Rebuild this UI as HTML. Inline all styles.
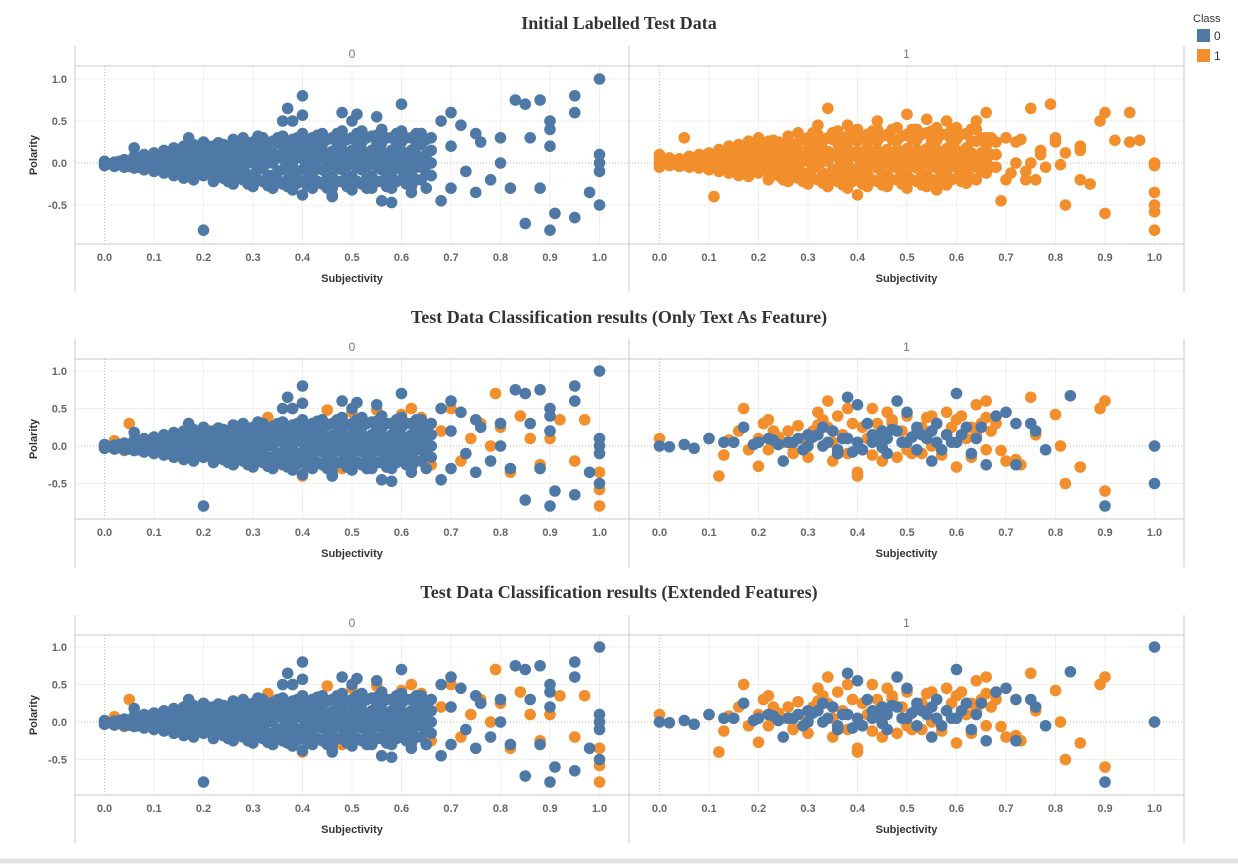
<!DOCTYPE html>
<html><head><meta charset="utf-8"><style>
html,body{margin:0;padding:0;background:#fff;}
svg{display:block;}
text{font-family:"Liberation Sans",sans-serif;}
</style></head><body>
<svg id="chart" width="1238" height="864" viewBox="0 0 1238 864" xmlns="http://www.w3.org/2000/svg">
<g id="legend">
<text x="1193" y="22" font-size="11" fill="#333">Class</text>
<rect x="1197" y="29" width="13" height="13" fill="#4e79a7"/>
<text x="1214" y="40" font-size="12" fill="#333">0</text>
<rect x="1197" y="49" width="13" height="13" fill="#f28e2b"/>
<text x="1214" y="60" font-size="12" fill="#333">1</text>
</g>
<line x1="0" y1="861" x2="1238" y2="861" stroke="#e4e4e4" stroke-width="5"/>
</svg>
<script>
// ---- data (Subjectivity x, Polarity y) ----
const blueCoreX = [0.00,0.02,0.04,0.06,0.08,0.10,0.12,0.14,0.16,0.18,0.20,0.22,0.24,0.26,0.28,0.30,0.32,0.34,0.36,0.38,0.40,0.42,0.44,0.46,0.48,0.50,0.52,0.54,0.56,0.58,0.60,0.62,0.64,0.66];
const blueCoreY = [[0,-0.03,0.02],[0.01,-0.04],[0,0.04,-0.05],[0.03,-0.06,0.08],[0,-0.08,0.1,0.05],[0.02,-0.1,0.12,-0.04],[0.05,-0.12,0.15,-0.03],[0,-0.15,0.1,0.18],[0.04,-0.1,0.2,-0.18],[0,-0.2,0.12,0.22,-0.08],[0.05,-0.15,0.18,-0.05,0.25],[0,-0.22,0.1,0.2,-0.1],[0.06,-0.18,0.22,-0.05,0.15],[0,-0.25,0.12,0.28,-0.12],[0.05,-0.2,0.2,-0.06,0.3],[0,-0.28,0.14,0.25,-0.14,0.07],[0.04,-0.22,0.3,-0.05,0.18],[0,-0.3,0.12,0.26,-0.15,0.06],[0.05,-0.25,0.2,-0.08,0.32,0.12],[0,-0.32,0.15,0.28,-0.15,0.5],[0.05,-0.22,0.22,-0.08,0.35,0.12,-0.38],[0,-0.3,0.15,0.3,-0.15,0.07],[0.06,-0.25,0.22,-0.08,0.35,0.14],[0,-0.3,0.14,0.3,-0.16,0.07,-0.4],[0.05,-0.22,0.24,-0.08,0.38,0.15],[0,-0.32,0.15,0.3,-0.16,0.08,0.5],[0.06,-0.25,0.25,-0.08,0.38,0.15],[0,-0.3,0.15,0.32,-0.16,0.08],[0.05,-0.22,0.24,-0.08,0.4,0.14,-0.45],[0,-0.3,0.15,0.3,-0.15,0.08],[0.05,-0.2,0.25,-0.08,0.38,0.14],[0,-0.28,0.15,0.3,-0.12],[0.05,-0.2,0.22,-0.05,0.35],[0,0.15,-0.15]];
const blueFillX = [0.01,0.03,0.05,0.07,0.09,0.11,0.13,0.15,0.17,0.19,0.21,0.23,0.25,0.27,0.29,0.31,0.33,0.35,0.37,0.39,0.41,0.43,0.45,0.47,0.49,0.51,0.53,0.55,0.57,0.59,0.61,0.63,0.65];
const blueFillY = [[-0.01],[0.02,-0.02],[0.02,-0.04],[0,0.05,-0.05],[0.04,-0.04,0.08],[0.06,-0.06,0],[0.09,-0.07,0.02],[0.06,-0.07,0.13,-0.01],[0.1,-0.05,0.15,-0.12],[0.08,-0.12,0.16,-0.03],[0.1,-0.1,0.2,-0.02],[0.06,-0.15,0.15,-0.04,0.24],[0.1,-0.12,0.2,-0.02,-0.22],[0.06,-0.18,0.2,-0.06,0.12],[0.1,-0.14,0.24,0,-0.25],[0.1,-0.2,0.2,-0.08,0.32],[0.1,-0.15,0.22,0,-0.27],[0.08,-0.2,0.24,-0.1,0.3],[0.1,-0.2,0.22,-0.05,-0.28],[0.08,-0.24,0.24,-0.1,0.3],[0.1,-0.2,0.25,-0.04,-0.27],[0.1,-0.22,0.24,-0.06,0.33],[0.1,-0.18,0.28,-0.04,-0.3],[0.1,-0.22,0.24,-0.06,0.35],[0.1,-0.18,0.28,-0.04,-0.28],[0.1,-0.22,0.24,-0.05,0.35],[0.1,-0.18,0.3,-0.04,-0.3],[0.1,-0.22,0.22,-0.05,0.33],[0.1,-0.18,0.3,-0.04,-0.28],[0.1,-0.22,0.22,-0.05,0.35],[0.1,-0.15,0.3,-0.04,-0.25],[0.1,-0.2,0.22,-0.05],[0.1,-0.12,0.28]];
const blueOutX = [0.2,0.37,0.4,0.4,0.36,0.48,0.51,0.55,0.6,0.58,0.46,0.17,0.06,0.7,0.68,0.72,0.75,0.7,0.73,0.7,0.68,0.76,0.8,0.78,0.82,0.83,0.85,0.88,0.86,0.85,0.88,0.9,0.9,0.9,0.9,0.91,0.95,0.95,0.95,0.98,1.0,1.0,1.0,1.0,1.0,0.8,0.75,0.66,0.65,0.63,0.62];
const blueOutY = [-0.8,0.65,0.8,0.57,0.5,0.6,0.58,0.55,0.7,-0.47,-0.38,0.3,0.18,0.6,0.5,0.45,0.35,0.2,-0.1,-0.3,-0.45,0.25,0.3,-0.2,-0.3,0.75,0.7,0.75,0.3,-0.72,-0.3,0.5,0.4,0.2,-0.8,-0.6,0.8,0.6,-0.65,-0.35,1.0,0.1,0.0,-0.1,-0.5,0.0,-0.35,0.3,-0.3,0.35,-0.35];
const orangeCoreX = [0.00,0.02,0.04,0.06,0.08,0.10,0.12,0.14,0.16,0.18,0.20,0.22,0.24,0.26,0.28,0.30,0.32,0.34,0.36,0.38,0.40,0.42,0.44,0.46,0.48,0.50,0.52,0.54,0.56,0.58,0.60,0.62,0.64,0.66,0.68];
const orangeCoreY = [[0,0.1,-0.05,0.05],[0.02,-0.03,0.06],[0,0.05,-0.04],[0.03,-0.05,0.08,0],[0,-0.06,0.1,0.04],[0.03,-0.08,0.12,-0.02],[0.06,-0.1,0.16,0],[0.02,-0.12,0.12,0.2],[0.06,-0.08,0.22,-0.15],[0,-0.16,0.14,0.26,0.06],[0.06,-0.12,0.2,-0.04,0.3],[0.02,-0.2,0.12,0.26,-0.08],[0.08,-0.15,0.25,-0.03,0.16],[0.02,-0.22,0.14,0.32,-0.1],[0.07,-0.18,0.24,-0.04,0.36],[0.02,-0.25,0.16,0.3,-0.12,0.08],[0.06,-0.2,0.34,-0.04,0.2,0.45],[0.02,-0.28,0.14,0.3,-0.14,0.08,0.65],[0.07,-0.22,0.24,-0.06,0.38,0.14],[0.02,-0.3,0.17,0.32,-0.14,0.45],[0.07,-0.2,0.26,-0.06,0.4,0.14,-0.38],[0.02,-0.28,0.18,0.34,-0.13,0.08],[0.08,-0.22,0.26,-0.06,0.4,0.15,0.5],[0.02,-0.28,0.16,0.34,-0.14,0.08],[0.07,-0.2,0.27,-0.06,0.42,0.16],[0.02,-0.3,0.17,0.34,-0.14,0.1,0.58],[0.08,-0.22,0.28,-0.06,0.4,0.16],[0.02,-0.28,0.17,0.36,-0.14,0.1,0.52],[0.07,-0.2,0.27,-0.06,0.42,0.16,-0.32],[0.02,-0.26,0.17,0.34,-0.12,0.08,0.5],[0.07,-0.18,0.28,-0.05,0.42,0.15],[0.02,-0.24,0.18,0.35,-0.1],[0.08,-0.2,0.26,-0.05,0.4,0.5],[0.02,0.2,-0.12,0.6,0.3],[0.1,-0.05,0.25]];
const orangeFillX = [0.01,0.03,0.05,0.07,0.09,0.11,0.13,0.15,0.17,0.19,0.21,0.23,0.25,0.27,0.29,0.31,0.33,0.35,0.37,0.39,0.41,0.43,0.45,0.47,0.49,0.51,0.53,0.55,0.57,0.59,0.61,0.63,0.65,0.67];
const orangeFillY = [[0.01],[0.02,-0.01],[0.03,-0.02],[0.02,0.06,-0.03],[0.05,-0.03,0.09],[0.06,-0.05,0.02],[0.09,-0.05,0.03],[0.08,-0.06,0.16,0],[0.12,-0.04,0.17,-0.1],[0.09,-0.1,0.2,0],[0.12,-0.08,0.24,0],[0.08,-0.12,0.18,-0.02,0.27],[0.12,-0.1,0.22,0,-0.2],[0.08,-0.15,0.22,-0.05,0.14],[0.12,-0.12,0.28,0.02,-0.22],[0.12,-0.18,0.24,-0.06,0.36],[0.12,-0.12,0.26,0.02,-0.24],[0.1,-0.18,0.28,-0.08,0.36],[0.12,-0.16,0.26,-0.02,-0.26],[0.1,-0.22,0.28,-0.08,0.36],[0.12,-0.16,0.3,-0.02,-0.25],[0.12,-0.2,0.28,-0.04,0.38],[0.12,-0.15,0.32,-0.02,-0.26],[0.12,-0.2,0.28,-0.04,0.4],[0.12,-0.15,0.32,-0.02,-0.25],[0.12,-0.2,0.28,-0.04,0.4],[0.12,-0.15,0.34,-0.02,-0.26],[0.12,-0.2,0.26,-0.04,0.38],[0.12,-0.15,0.34,-0.02,-0.25],[0.12,-0.2,0.26,-0.04,0.4],[0.12,-0.12,0.34,-0.02,-0.22],[0.12,-0.18,0.26,-0.04,0.4],[0.12,-0.1,0.3,0],[0.1,-0.05,0.3]];
const orangeOutX = [0.05,0.11,0.69,0.7,0.72,0.73,0.71,0.72,0.74,0.75,0.75,0.76,0.77,0.77,0.78,0.79,0.8,0.8,0.81,0.82,0.82,0.85,0.85,0.85,0.87,0.89,0.9,0.9,0.92,0.95,0.95,0.97,1.0,1.0,1.0,1.0,1.0,1.0,0.74,0.7];
const orangeOutY = [0.3,-0.4,-0.45,0.3,0.25,0.28,-0.12,0.0,-0.1,0.0,0.65,-0.2,0.15,0.1,-0.05,0.7,0.3,0.25,-0.02,0.12,-0.5,0.2,0.15,-0.2,-0.25,0.5,0.6,-0.6,0.27,0.6,0.25,0.27,0,-0.03,-0.35,-0.5,-0.58,-0.8,-0.2,-0.2];
const missLeftX = [0.05,0.02,0.04,0.25,0.33,0.38,0.4,0.45,0.5,0.52,0.55,0.6,0.62,0.64,0.66,0.68,0.7,0.72,0.74,0.76,0.78,0.79,0.8,0.82,0.84,0.86,0.88,0.9,0.92,0.95,0.97,1.0,1.0,1.0,0.66,0.48,0.3,0.2,0.15,0.1];
const missLeftY = [0.3,0.07,-0.06,0.1,0.38,0.5,-0.4,0.48,0.45,0.3,0.48,0.42,0.5,0.38,-0.25,0.2,0.5,-0.2,0.1,0.3,0.0,0.7,0.25,-0.35,0.4,0.1,-0.25,0.1,0.35,-0.2,0.35,-0.35,-0.58,-0.8,0.3,-0.3,-0.2,0.2,0.1,-0.05];
const predRightOrangeX = [0,0.1,0.12,0.13,0.17,0.16,0.2,0.2,0.21,0.22,0.24,0.26,0.27,0.28,0.29,0.3,0.31,0.32,0.33,0.34,0.35,0.36,0.37,0.38,0.38,0.4,0.4,0.41,0.43,0.44,0.45,0.46,0.47,0.48,0.5,0.52,0.53,0.55,0.56,0.58,0.6,0.61,0.62,0.63,0.64,0.65,0.66,0.66,0.67,0.69,0.7,0.72,0.73,0.75,0.76,0.8,0.81,0.82,0.85,0.89,0.9,0.9,0.25,0.35,0.45,0.55,0.3,0.5,0.42,0.58,0.14,0.18,0.23,0.27,0.32,0.36,0.39,0.43,0.47,0.51,0.54,0.57,0.6,0.63,0.66,0.22,0.26,0.34,0.44,0.49,0.53,0.59,0.64,0.68];
const predRightOrangeY = [0.1,0.1,-0.4,-0.12,0.5,0.2,0.1,-0.27,0.3,0.35,0.12,0.2,-0.1,0.27,0.1,-0.15,0.2,0.45,0.35,0.6,-0.2,0.4,0.15,0.5,-0.1,-0.35,-0.4,0.25,0.5,0.15,-0.2,0.45,0.3,-0.15,0.4,0.2,-0.1,0.4,0.3,0.45,-0.28,0.4,0.1,-0.15,0.55,0.3,0.6,-0.05,0.2,-0.06,-0.2,-0.18,-0.25,0.65,0.15,0.42,0.0,-0.5,-0.28,0.5,0.6,-0.6,0.05,0.05,0.05,0.0,0.05,-0.05,0.1,0.15,0.08,-0.05,0.2,-0.08,0.28,-0.1,0.3,-0.12,0.35,-0.1,0.38,-0.12,0.35,0.25,0.38,-0.05,0.05,0.25,0.3,0.2,0.25,0.25,0.15,0.3];
const predRightBlueX = [0,0.02,0.05,0.07,0.1,0.13,0.17,0.2,0.22,0.25,0.26,0.28,0.3,0.32,0.34,0.36,0.38,0.38,0.4,0.4,0.42,0.44,0.46,0.48,0.48,0.5,0.5,0.52,0.54,0.55,0.56,0.58,0.6,0.6,0.62,0.64,0.66,0.68,0.7,0.72,0.72,0.75,0.76,0.78,0.83,0.9,0.35,0.45,0.53,0.3,0.24,0.15,0.41,0.57,0.19,0.23,0.27,0.29,0.31,0.33,0.37,0.39,0.43,0.45,0.47,0.49,0.51,0.55,0.59,0.61,0.63,0.65,0.33,0.43,0.52,0.36,0.46,0.56];
const predRightBlueY = [0,-0.01,0.02,-0.03,0.1,0.05,0.25,0.05,0.1,-0.2,0.05,0.1,0.0,0.15,0.05,-0.05,0.65,0.1,0.55,0.05,0.3,0.1,-0.1,0.6,0.2,0.05,0.45,0.25,0.1,-0.2,0.3,0.15,0.7,0.05,0.25,0.1,-0.25,0.4,0.45,0.3,-0.25,0.3,0.2,-0.05,0.67,-0.8,0.2,0.2,0.15,0.15,0.02,0.05,-0.05,-0.05,0.02,0.08,0.05,-0.05,0.12,0.0,0.1,-0.08,0.15,-0.02,0.22,0.05,0.12,0.2,0.05,0.15,-0.1,0.25,0.25,0.05,-0.05,-0.1,0.1,0.05];
const row2RightBlueOutX = [1.0,1.0];
const row2RightBlueOutY = [0.0,-0.5];
const row3RightBlueOutX = [1.0,1.0];
const row3RightBlueOutY = [1.0,0.0];
const xTicks = [0,0.1,0.2,0.3,0.4,0.5,0.6,0.7,0.8,0.9,1.0];
const yTicks = [1.0,0.5,0.0,-0.5];
const titles = ["Initial Labelled Test Data","Test Data Classification results (Only Text As Feature)","Test Data Classification results (Extended Features)"];
const facetLabels = ["0","1"];

const NS="http://www.w3.org/2000/svg";
const svg=document.getElementById('chart');
const BLUE="#4e79a7", ORANGE="#f28e2b";
const R=5.8;
function mk(tag,attrs,parent){const e=document.createElementNS(NS,tag);for(const k in attrs)e.setAttribute(k,attrs[k]);(parent||svg).appendChild(e);return e;}
const rows=[
 {title:23,top:46,header:66,zero:163,k:84,plotBottom:244,tick:261,subj:282,bottom:292},
 {title:317,top:339,header:359,zero:446,k:75,plotBottom:519,tick:536,subj:557,bottom:567},
 {title:592,top:615,header:635,zero:722,k:75,plotBottom:795,tick:812,subj:833,bottom:843}
];
const panels=[{left:75,x0:104.5,right:629},{left:629,x0:659.5,right:1184}];
const XK=495;
function xs(p,v){return p.x0+v*XK;}
function ys(r,v){return r.zero-v*r.k;}

rows.forEach((r,ri)=>{
 const t=mk('text',{x:619,y:r.title+6,'text-anchor':'middle','font-size':'18','font-weight':'bold',fill:'#333',style:'font-family:"Liberation Serif",serif'});
 t.textContent=titles[ri];
 
 
 panels.forEach((p,pi)=>{
  const g=mk('g',{});
  
  
  xTicks.forEach(v=>{
   const l=mk('line',{x1:xs(p,v),x2:xs(p,v),y1:r.header,y2:r.plotBottom,stroke:v===0?'#bbb':'#efefef','stroke-dasharray':v===0?'1,2':'none'},g);
   
   
   const tl=mk('text',{x:xs(p,v),y:r.tick,'text-anchor':'middle','font-size':'11','font-weight':'bold',fill:'#666'},g);
   tl.textContent=v.toFixed(1);
   
   
  });
  yTicks.forEach(v=>{
   const l=mk('line',{x1:p.left,x2:p.right,y1:ys(r,v),y2:ys(r,v),stroke:v===0?'#bbb':'#efefef','stroke-dasharray':v===0?'1,2':'none'},g);
   
   
  });
  const ft=mk('text',{x:(p.left+p.right)/2,y:r.header-8,'text-anchor':'middle','font-size':'12',fill:'#777'},g);
  ft.textContent=facetLabels[pi];
  
  
  const st=mk('text',{x:(p.left+p.right)/2,y:r.subj,'text-anchor':'middle','font-size':'11','font-weight':'bold',fill:'#333'},g);
  st.textContent='Subjectivity';
  
  
 });
 yTicks.forEach(v=>{
  const tl=mk('text',{x:67,y:ys(r,v)+4,'text-anchor':'end','font-size':'11','font-weight':'bold',fill:'#666'});
  tl.textContent=v.toFixed(1);
  
  
 });
 const yt=mk('text',{x:0,y:0,transform:'translate(37,'+((r.header+r.plotBottom)/2)+') rotate(-90)','text-anchor':'middle','font-size':'11','font-weight':'bold',fill:'#333'});
 yt.textContent='Polarity';
 
 
 const border='#c8c8c8';
 [[75,r.top,75,r.bottom],[629,r.top,629,r.bottom],[1184,r.top,1184,r.bottom],[75,r.header,1184,r.header],[75,r.plotBottom,1184,r.plotBottom]].forEach(c=>{
  const l=mk('line',{x1:c[0],y1:c[1],x2:c[2],y2:c[3],stroke:border,'stroke-width':1});
  
  
 });
});

function dotsFlat(r,p,X,Y,color,name){
 X.forEach((x,i)=>{
  const c=mk('circle',{cx:xs(p,x),cy:ys(r,Y[i]),r:R,fill:color});
  
  
 });
}
function dotsCols(r,p,X,YS,color,name){
 X.forEach((x,i)=>{
  YS[i].forEach(y=>{
   const c=mk('circle',{cx:xs(p,x),cy:ys(r,y),r:R,fill:color});
   
   
  });
 });
}
const [R1,R2,R3]=rows, [PL,PR]=panels;
// Row 1
dotsCols(R1,PL,blueCoreX,blueCoreY,BLUE,'point-class0');
dotsCols(R1,PL,blueFillX,blueFillY,BLUE,'point-class0');
dotsFlat(R1,PL,blueOutX,blueOutY,BLUE,'point-class0');
dotsCols(R1,PR,orangeCoreX,orangeCoreY,ORANGE,'point-class1');
dotsCols(R1,PR,orangeFillX,orangeFillY,ORANGE,'point-class1');
dotsFlat(R1,PR,orangeOutX,orangeOutY,ORANGE,'point-class1');
// Rows 2 & 3
[R2,R3].forEach((r,i)=>{
 dotsFlat(r,PL,missLeftX,missLeftY,ORANGE,'point-class1');
 dotsCols(r,PL,blueCoreX,blueCoreY,BLUE,'point-class0');
 dotsCols(r,PL,blueFillX,blueFillY,BLUE,'point-class0');
 dotsFlat(r,PL,blueOutX,blueOutY,BLUE,'point-class0');
 dotsFlat(r,PR,predRightOrangeX,predRightOrangeY,ORANGE,'point-class1');
 dotsFlat(r,PR,predRightBlueX,predRightBlueY,BLUE,'point-class0');
 if(i===0) dotsFlat(r,PR,row2RightBlueOutX,row2RightBlueOutY,BLUE,'point-class0');
 else dotsFlat(r,PR,row3RightBlueOutX,row3RightBlueOutY,BLUE,'point-class0');
});
svg.appendChild(document.getElementById('legend'));
</script>
</body></html>
